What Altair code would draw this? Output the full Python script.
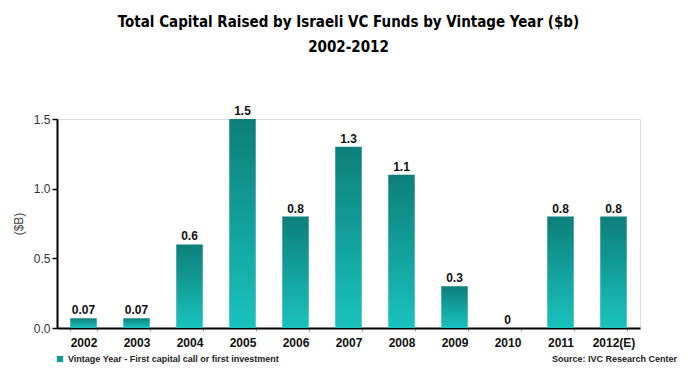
import altair as alt
import pandas as pd

years = ["2002", "2003", "2004", "2005", "2006", "2007", "2008", "2009", "2010", "2011", "2012(E)"]
values = [0.07, 0.07, 0.6, 1.5, 0.8, 1.3, 1.1, 0.3, 0.0, 0.8, 0.8]
labels = ["0.07", "0.07", "0.6", "1.5", "0.8", "1.3", "1.1", "0.3", "0", "0.8", "0.8"]
y_ticks = [0, 0.5, 1.0, 1.5]
title_lines = ["Total Capital Raised by Israeli VC Funds by Vintage Year ($b)", "2002-2012"]
legend_text = "Vintage Year - First capital call or first investment"
source_text = "Source: IVC Research Center"

df = pd.DataFrame({"year": years, "value": values, "label": labels})

W, H = 583, 209
FONT = "Liberation Sans"

x_enc = alt.X("year:N", sort=years, title=None,
              scale=alt.Scale(paddingInner=0.5, paddingOuter=0.25),
              axis=alt.Axis(labelAngle=0, labelFont=FONT, labelFontWeight="bold",
                            labelFontSize=12, labelColor="#111", labelPadding=6,
                            domainColor="#000", domainWidth=2,
                            tickBand="extent", tickSize=3, tickColor="#999", tickWidth=1))
y_enc = alt.Y("value:Q", title="($B)",
              scale=alt.Scale(domain=[0, 1.5], nice=False),
              axis=alt.Axis(values=y_ticks, format=".1f", grid=False,
                            labelFont=FONT, labelFontSize=12, labelColor="#333",
                            domainColor="#000", domainWidth=2,
                            tickColor="#000", tickSize=5, tickWidth=1.5,
                            titleFont=FONT, titleFontSize=12, titleFontWeight="normal",
                            titleColor="#444", titlePadding=8))

grad = alt.Gradient(gradient="linear",
                    stops=[alt.GradientStop(color="#0d7f7b", offset=0),
                           alt.GradientStop(color="#19c2bd", offset=1)],
                    x1=0, x2=0, y1=0, y2=1)

bars = alt.Chart(df).mark_bar(color=grad).encode(x=x_enc, y=y_enc)

text = alt.Chart(df).mark_text(dy=-8, font=FONT, fontWeight="bold", fontSize=12,
                               color="#111").encode(
    x=alt.X("year:N", sort=years), y="value:Q", text="label:N")

leg_sq = alt.Chart(pd.DataFrame({"t": [legend_text]})).mark_square(
    color="#139d99", size=40, opacity=1).encode(x=alt.value(3), y=alt.value(240))
leg_txt = alt.Chart(pd.DataFrame({"t": [legend_text]})).mark_text(
    align="left", baseline="middle", font=FONT, fontWeight="bold", fontSize=9,
    color="#222").encode(x=alt.value(11), y=alt.value(240), text="t:N")
src_txt = alt.Chart(pd.DataFrame({"t": [source_text]})).mark_text(
    align="right", baseline="middle", font=FONT, fontWeight="bold", fontSize=9,
    color="#222").encode(x=alt.value(620), y=alt.value(240), text="t:N")

chart = alt.layer(bars, text, leg_sq, leg_txt, src_txt).properties(
    width=W, height=H,
    title=alt.TitleParams(text=title_lines, font="Liberation Sans Narrow, DejaVu Sans Condensed, Liberation Sans",
                          fontSize=15, fontWeight="bold", color="#000",
                          anchor="middle", offset=50, lineHeight=25),
    autosize=alt.AutoSizeParams(type="none"),
    padding={"left": 49, "top": 111, "right": 43, "bottom": 40},
).configure_view(stroke=None).configure(background="white")

chart.save("out.html", embed_options={"renderer": "svg", "actions": False})
